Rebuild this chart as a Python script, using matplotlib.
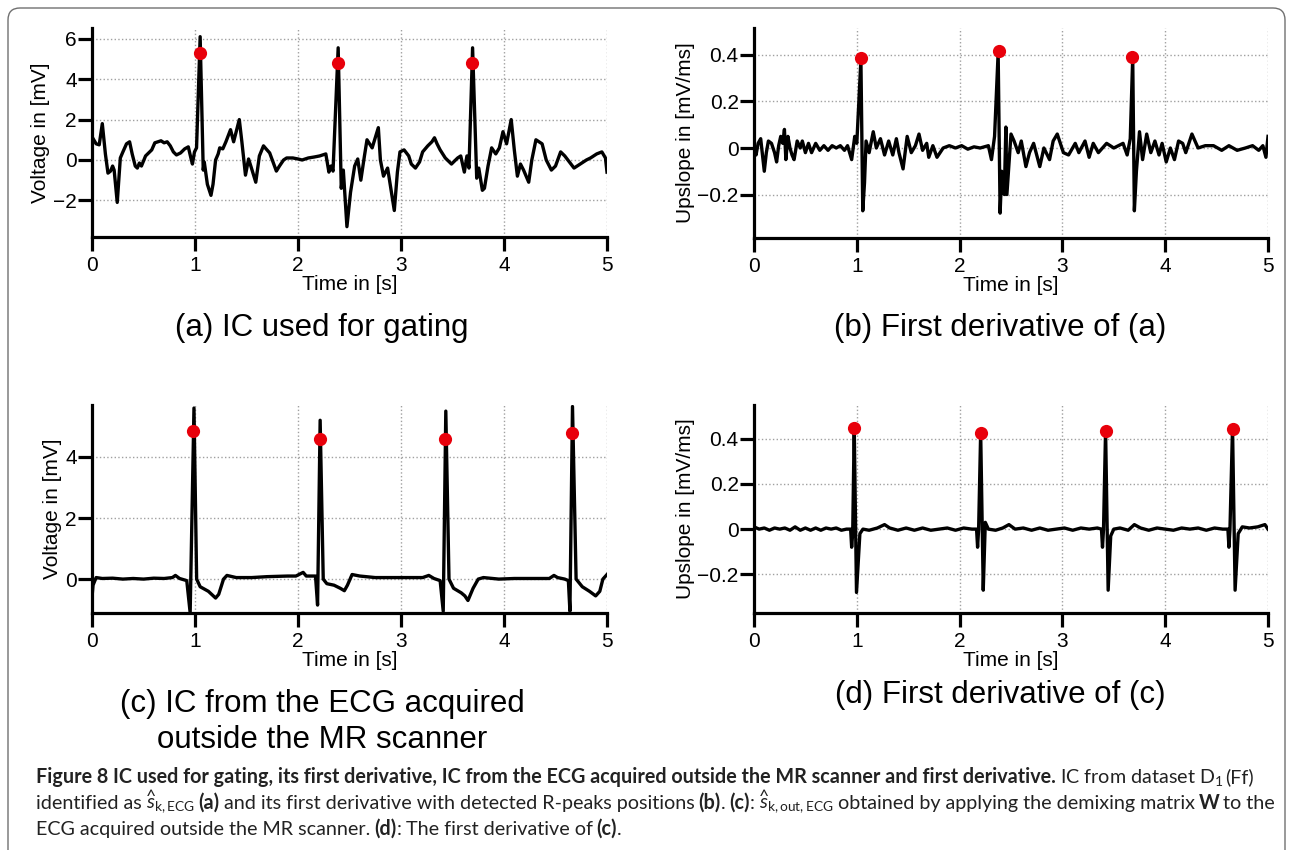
import matplotlib
matplotlib.use('Agg')
import matplotlib.pyplot as plt
from matplotlib import font_manager
from matplotlib.patches import FancyBboxPatch

# (a) IC used for gating
t_a = [0.00, 0.04, 0.07, 0.10, 0.13, 0.155, 0.18, 0.20, 0.215, 0.245, 0.275, 0.30, 0.335, 0.365,
       0.39, 0.42, 0.44, 0.46, 0.48, 0.52, 0.55, 0.58, 0.61, 0.64, 0.67, 0.70, 0.73, 0.76, 0.79,
       0.82, 0.86, 0.90, 0.935, 0.96, 0.975, 0.995, 1.015, 1.05, 1.08, 1.09, 1.12, 1.155, 1.175,
       1.20, 1.225, 1.24, 1.27, 1.30, 1.345, 1.375, 1.43, 1.455, 1.49, 1.52, 1.545, 1.59, 1.625,
       1.665, 1.69, 1.725, 1.75, 1.79, 1.82, 1.86, 1.89, 1.95, 2.00, 2.04, 2.10, 2.16, 2.21, 2.27,
       2.30, 2.32, 2.34, 2.39, 2.42, 2.44, 2.475, 2.51, 2.55, 2.58, 2.61, 2.645, 2.67, 2.72, 2.78,
       2.80, 2.83, 2.87, 2.935, 2.965, 2.99, 3.03, 3.075, 3.10, 3.14, 3.18, 3.21, 3.26, 3.30, 3.325,
       3.35, 3.38, 3.43, 3.49, 3.55, 3.58, 3.615, 3.64, 3.66, 3.695, 3.735, 3.755, 3.79, 3.81,
       3.845, 3.88, 3.92, 3.955, 3.99, 4.025, 4.07, 4.10, 4.13, 4.16, 4.19, 4.24, 4.27, 4.31, 4.37,
       4.41, 4.46, 4.50, 4.55, 4.59, 4.68, 4.74, 4.80, 4.84, 4.90, 4.95, 4.985, 5.00]
v_a = [1.15, 0.8, 0.75, 1.8, 0.3, -0.65, -0.55, -0.3, -0.5, -2.1, 0.1, 0.4, 0.8, 0.9,
       0.3, -0.3, -0.4, -0.15, -0.3, 0.2, 0.35, 0.5, 0.85, 0.9, 0.95, 0.85, 0.9, 0.7, 0.4,
       0.25, 0.35, 0.55, 0.65, 0.1, -0.2, 0.4, 0.6, 6.1, -0.5, -0.1, -1.2, -1.75, -1.2,
       0.0, 0.3, 0.6, 0.55, 0.9, 1.5, 0.9, 2.0, 0.9, -0.75, 0.05, -0.35, -1.1, 0.2,
       0.7, 0.55, 0.35, 0.0, -0.55, -0.3, 0.0, 0.1, 0.1, 0.05, 0.0, 0.1, 0.15, 0.2, 0.3,
       -0.6, -0.3, -0.55, 5.55, -1.4, -0.5, -3.3, -1.6, -0.3, 0.05, -1.0, 0.2, 1.0, 0.6, 1.6,
       0.0, -0.8, -0.4, -2.5, -0.6, 0.4, 0.5, 0.2, -0.2, -0.4, -0.1, 0.4, 0.7, 0.9, 1.1,
       0.8, 0.5, 0.1, -0.2, 0.1, 0.2, -0.6, 0.2, -0.4, 5.55, -0.9, -0.4, -1.5, -1.4,
       -0.3, 0.6, 0.3, 0.6, 1.4, 0.8, 2.0, 0.5, -0.8, -0.2, -0.5, -1.1, 0.0, 1.0, 0.8,
       0.0, -0.5, -0.3, 0.4, 0.2, -0.4, -0.2, 0.0, 0.1, 0.3, 0.4, 0.1, -0.6]
peak_t_a = [1.05, 2.39, 3.69]
peak_v_a = [5.3, 4.8, 4.82]

# (b) first derivative of (a)
t_b = [0.00, 0.02, 0.04, 0.065, 0.08, 0.10, 0.12, 0.14, 0.17, 0.20, 0.22, 0.24, 0.26, 0.28,
       0.296, 0.31, 0.33, 0.35, 0.37, 0.39, 0.42, 0.45, 0.47, 0.50, 0.53, 0.56, 0.60, 0.64, 0.68,
       0.72, 0.76, 0.80, 0.84, 0.88, 0.91, 0.95, 0.98, 1.00, 1.04, 1.058, 1.075, 1.09, 1.12, 1.16,
       1.19, 1.23, 1.27, 1.31, 1.35, 1.385, 1.41, 1.45, 1.49, 1.53, 1.57, 1.605, 1.64, 1.68, 1.70,
       1.74, 1.78, 1.84, 1.90, 1.96, 2.02, 2.08, 2.14, 2.20, 2.28, 2.31, 2.34, 2.375, 2.394, 2.41,
       2.435, 2.45, 2.46, 2.50, 2.53, 2.57, 2.60, 2.645, 2.68, 2.72, 2.78, 2.82, 2.875, 2.91, 2.95,
       3.01, 3.06, 3.125, 3.16, 3.22, 3.26, 3.30, 3.35, 3.43, 3.50, 3.59, 3.63, 3.66, 3.684, 3.70,
       3.72, 3.75, 3.78, 3.82, 3.86, 3.90, 3.94, 3.97, 4.01, 4.05, 4.09, 4.13, 4.17, 4.20, 4.26,
       4.32, 4.39, 4.47, 4.55, 4.62, 4.70, 4.78, 4.85, 4.91, 4.95, 4.98, 5.00]
v_b = [0.0, -0.03, 0.02, 0.04, -0.02, -0.1, -0.02, 0.03, 0.02, -0.02, -0.06, 0.01, 0.05, 0.02,
       0.08, -0.05, 0.05, 0.0, -0.03, -0.05, 0.03, 0.0, 0.03, -0.02, 0.02, -0.02, 0.02, -0.01, 0.01,
       -0.01, 0.01, 0.0, 0.01, -0.01, 0.01, -0.05, 0.05, 0.02, 0.38, -0.27, -0.15, 0.03, -0.02, 0.07,
       0.0, 0.04, -0.03, 0.03, -0.03, 0.04, -0.02, -0.09, 0.05, -0.02, 0.01, 0.06, -0.01, 0.02, -0.04,
       0.01, -0.04, 0.0, 0.01, 0.0, 0.01, -0.005, 0.005, 0.0, 0.01, -0.05, 0.05, 0.41, -0.28, -0.1,
       -0.2, 0.09, -0.2, 0.06, 0.03, -0.02, 0.03, -0.08, -0.02, 0.02, -0.08, 0.0, -0.05, 0.03, 0.06,
       -0.02, -0.03, 0.02, -0.02, 0.03, -0.04, 0.02, -0.02, 0.02, 0.0, 0.02, -0.03, 0.04, 0.39, -0.27,
       -0.1, 0.07, -0.05, 0.06, -0.02, 0.03, -0.03, 0.02, -0.06, 0.0, -0.05, 0.03, 0.02, -0.02, 0.06,
       0.0, 0.01, 0.01, -0.01, 0.01, -0.01, 0.0, 0.01, -0.01, 0.01, -0.04, 0.05]
peak_t_b = [1.04, 2.38, 3.68]
peak_v_b = [0.385, 0.415, 0.39]

# (c) IC from the ECG acquired outside the MR scanner
t_c = [0.00, 0.01, 0.04, 0.10, 0.20, 0.30, 0.40, 0.50, 0.60, 0.70, 0.78, 0.81, 0.85, 0.92,
       0.953, 0.99, 1.016, 1.05, 1.13, 1.20, 1.23, 1.277, 1.31, 1.40, 1.55, 1.70, 1.90, 1.98,
       2.05, 2.08, 2.17, 2.19, 2.215, 2.245, 2.28, 2.35, 2.41, 2.45, 2.48, 2.525, 2.60, 2.75,
       2.90, 3.05, 3.21, 3.27, 3.32, 3.38, 3.41, 3.435, 3.466, 3.51, 3.585, 3.62, 3.65, 3.70,
       3.75, 3.80, 3.95, 4.10, 4.30, 4.44, 4.485, 4.52, 4.59, 4.625, 4.64, 4.665, 4.70, 4.76,
       4.83, 4.89, 4.93, 4.96, 5.00]
v_c = [-0.6, -0.2, 0.05, 0.02, 0.03, 0.0, 0.02, 0.0, 0.03, 0.02, 0.05, 0.12, 0.02, -0.05,
       -1.1, 5.6, 0.0, -0.25, -0.4, -0.62, -0.5, 0.0, 0.12, 0.05, 0.05, 0.08, 0.1, 0.1,
       0.22, 0.1, 0.1, -0.85, 5.2, 0.0, -0.15, -0.2, -0.3, -0.38, -0.2, 0.15, 0.1, 0.05,
       0.05, 0.05, 0.05, 0.12, 0.02, -0.05, -1.05, 5.5, 0.0, -0.3, -0.45, -0.55, -0.7, -0.3,
       0.0, 0.05, 0.0, 0.02, 0.02, 0.02, 0.12, 0.05, 0.0, -0.05, -1.05, 5.65, 0.0, -0.25,
       -0.4, -0.55, -0.4, 0.0, 0.15]
peak_t_c = [0.985, 2.21, 3.43, 4.66]
peak_v_c = [4.84, 4.6, 4.6, 4.79]

# (d) first derivative of (c)
t_d = [0.00, 0.05, 0.10, 0.15, 0.20, 0.25, 0.30, 0.35, 0.40, 0.45, 0.50, 0.55, 0.60, 0.65,
       0.70, 0.75, 0.80, 0.85, 0.90, 0.94, 0.95, 0.96, 0.975, 0.997, 1.03, 1.06, 1.12, 1.20,
       1.27, 1.32, 1.40, 1.48, 1.56, 1.64, 1.72, 1.80, 1.88, 1.96, 2.04, 2.12, 2.165, 2.175,
       2.185, 2.205, 2.23, 2.25, 2.28, 2.35, 2.42, 2.48, 2.54, 2.62, 2.70, 2.78, 2.86, 2.94,
       3.02, 3.10, 3.18, 3.26, 3.34, 3.38, 3.39, 3.40, 3.42, 3.445, 3.47, 3.50, 3.56, 3.64,
       3.70, 3.76, 3.84, 3.92, 4.00, 4.08, 4.16, 4.24, 4.32, 4.40, 4.48, 4.56, 4.61, 4.62,
       4.63, 4.655, 4.68, 4.71, 4.75, 4.82, 4.90, 4.97, 5.00]
v_d = [0.01, 0.0, 0.005, -0.005, 0.005, 0.0, 0.005, -0.005, 0.01, -0.005, 0.005, -0.005, 0.005, -0.005,
       0.005, 0.0, 0.005, -0.005, 0.0, 0.0, -0.08, -0.02, 0.45, -0.28, -0.02, 0.0, -0.005, 0.005,
       0.02, 0.005, -0.005, 0.005, -0.005, 0.005, -0.005, 0.0, 0.005, -0.005, 0.005, 0.0, 0.0, -0.08,
       0.0, 0.43, -0.27, 0.03, 0.0, -0.005, 0.005, 0.02, 0.0, 0.005, -0.005, 0.005, -0.005, 0.0,
       0.005, -0.005, 0.005, 0.0, 0.005, 0.0, -0.08, 0.0, 0.44, -0.27, -0.03, 0.0, 0.005, -0.005,
       0.02, 0.005, -0.005, 0.005, 0.0, -0.005, 0.005, 0.0, 0.005, -0.005, 0.005, 0.0, 0.0, -0.08,
       0.0, 0.45, -0.27, -0.02, 0.01, 0.005, 0.01, 0.02, 0.0]
peak_t_d = [0.975, 2.205, 3.42, 4.655]
peak_v_d = [0.449, 0.426, 0.434, 0.441]

panels = [
    (t_a, v_a, peak_t_a, peak_v_a, (-3.81, 6.53), [-2, 0, 2, 4, 6], ['\u22122', '0', '2', '4', '6'], 'Voltage in [mV]'),
    (t_b, v_b, peak_t_b, peak_v_b, (-0.387, 0.516), [-0.2, 0, 0.2, 0.4], ['\u22120.2', '0', '0.2', '0.4'], 'Upslope in [mV/ms]'),
    (t_c, v_c, peak_t_c, peak_v_c, (-1.11, 5.7), [0, 2, 4], ['0', '2', '4'], 'Voltage in [mV]'),
    (t_d, v_d, peak_t_d, peak_v_d, (-0.371, 0.549), [-0.2, 0, 0.2, 0.4], ['\u22120.2', '0', '0.2', '0.4'], 'Upslope in [mV/ms]'),
]
subtitles = ['(a) IC used for gating', '(b) First derivative of (a)',
             '(c) IC from the ECG acquired', 'outside the MR scanner', '(d) First derivative of (c)']

W, H = 1294, 850
plt.rcParams['font.family'] = ['Liberation Sans', 'DejaVu Sans']
names = {f.name for f in font_manager.fontManager.ttflist}
cap_font = 'Liberation Sans Narrow' if 'Liberation Sans Narrow' in names else 'Lato'
plt.rcParams['mathtext.fontset'] = 'custom'
plt.rcParams['mathtext.rm'] = cap_font
plt.rcParams['mathtext.it'] = cap_font + ':italic'
plt.rcParams['mathtext.bf'] = cap_font + ':bold'

fig = plt.figure(figsize=(W / 100, H / 100), dpi=100, facecolor='white')

# axes boxes in pixels: left, top, right, bottom
boxes = [(92, 28, 607, 237), (754, 28, 1268, 238), (92, 405, 607, 613), (754, 405, 1268, 613)]

for (t, v, pt, pv, ylim, yt, ytl, ylab), (l, tp, r, b) in zip(panels, boxes):
    ax = fig.add_axes([l / W, 1 - b / H, (r - l) / W, (b - tp) / H])
    ax.plot(t, v, color='black', lw=2.4, solid_joinstyle='round')
    ax.plot(pt, pv, 'o', color='#e8000b', ms=9.5, mec='none')
    ax.set_xlim(0, 5)
    ax.set_ylim(*ylim)
    ax.set_xticks([0, 1, 2, 3, 4, 5])
    ax.set_yticks(yt)
    ax.set_yticklabels(ytl)
    for s in ['top', 'right']:
        ax.spines[s].set_visible(False)
    for s in ['left', 'bottom']:
        ax.spines[s].set_linewidth(2.3)
    ax.tick_params(direction='out', length=10, width=2.3, labelsize=15)
    ax.tick_params(axis='y', pad=1)
    ax.tick_params(axis='x', pad=4)
    ax.grid(True, linestyle=':', color='#a0a0a0', lw=1)
    ax.set_axisbelow(True)
    ax.set_xlabel('Time in [s]', fontsize=15, labelpad=0)
    ax.set_ylabel(ylab, fontsize=15, labelpad=2)

sub_pos = [(322, 328), (1000, 328), (322, 704), (322, 740), (1000, 695)]
for s, (x, y) in zip(subtitles, sub_pos):
    fig.text(x / W, 1 - y / H, s, fontsize=22.5, ha='center', va='center')

# rounded frame
frame = FancyBboxPatch((0.08, -0.5), 12.77, 8.92, boxstyle='round,pad=0,rounding_size=0.12',
                       transform=fig.dpi_scale_trans, fill=False, ec='#707070', lw=1.0)
fig.patches.append(frame)

# caption with mixed weights
cap_size = 14.2
renderer = fig.canvas.get_renderer()


def caption_line(y, pieces):
    x = 36
    for s, bold, gap in pieces:
        x += gap
        txt = fig.text(x / W, 1 - y / H, s, fontsize=cap_size, family=[cap_font, 'DejaVu Sans'],
                       weight='bold' if bold else 'normal', va='baseline', ha='left', color='#222222')
        x = txt.get_window_extent(renderer).x1


sp = 4
caption_line(783, [
    ('Figure 8 IC used for gating, its first derivative, IC from the ECG acquired outside the MR scanner and first derivative.', True, 0),
    ('IC from dataset D$_1$', False, sp), ('(Ff)', False, 2)])
caption_line(809, [
    ('identified as', False, 0), (r'$\widehat{s}_{\mathrm{k,ECG}}$', False, sp), ('(a)', True, sp),
    ('and its first derivative with detected R-peaks positions', False, sp), ('(b)', True, sp), ('.', False, 0),
    ('(c)', True, sp), (':', False, 0), (r'$\widehat{s}_{\mathrm{k,out,ECG}}$', False, sp),
    ('obtained by applying the demixing matrix', False, sp), ('W', True, sp), ('to the', False, sp)])
caption_line(835, [
    ('ECG acquired outside the MR scanner.', False, 0), ('(d)', True, sp), (':', False, 0),
    ('The first derivative of', False, sp), ('(c)', True, sp), ('.', False, 0)])

fig.savefig('out.png', dpi=100)
